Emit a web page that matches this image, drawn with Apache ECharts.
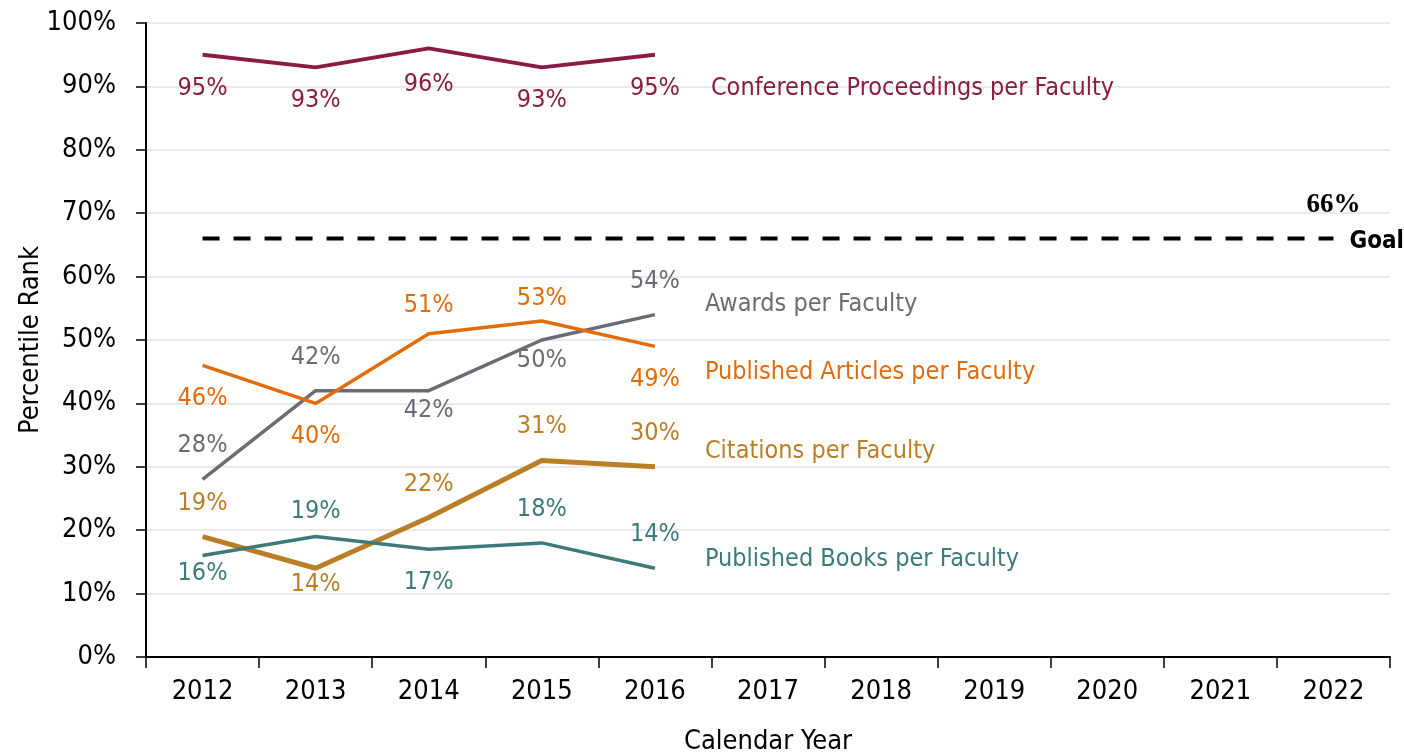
<!DOCTYPE html>
<html>
<head>
<meta charset="utf-8">
<script src="https://cdn.jsdelivr.net/npm/echarts@6/dist/echarts.min.js"></script>
<style>
  html, body { margin: 0; padding: 0; background: #fff; }
  #chart { width: 1404px; height: 754px; }
</style>
</head>
<body>
<div id="chart"></div>
<script>
// 数据
const years = ['2012', '2013', '2014', '2015', '2016', '2017', '2018', '2019', '2020', '2021', '2022']
const conference = [95, 93, 96, 93, 95]
const awards = [28, 42, 42, 50, 54]
const articles = [46, 40, 51, 53, 49]
const citations = [19, 14, 22, 31, 30]
const books = [16, 19, 17, 18, 14]
const goal = 66

const FONT = "'Liberation Sans Narrow', 'DejaVu Sans Condensed', sans-serif"

// 标签位置简写: t = 上方, b = 下方, 数字为距离
const place = s => {
  const [p, d] = s.split(':')
  return { position: p === 't' ? 'top' : 'bottom', distance: d ? +d : 21 }
}

// 每条线的样式和标签位置
const makeSeries = (name, values, color, width, pos, endOffset) => ({
  name,
  type: 'line',
  data: values.map((v, i) => ({ value: v, label: place(pos[i]) })),
  symbol: 'circle',
  symbolSize: 0,
  showSymbol: true,
  lineStyle: { color, width },
  itemStyle: { color },
  label: {
    show: true,
    formatter: p => p.value + '%',
    color,
    fontFamily: FONT,
    fontSize: 25
  },
  endLabel: {
    show: true,
    formatter: name,
    color,
    fontFamily: FONT,
    fontSize: 25,
    offset: endOffset
  },
  z: 3
})

const chart = echarts.init(document.getElementById('chart'))

const option = {
  animation: false,
  grid: { left: 146, right: 14, top: 23, bottom: 97, outerBoundsMode: 'none', containLabel: false },
  xAxis: {
    type: 'category',
    data: years,
    boundaryGap: true,
    name: 'Calendar Year',
    nameLocation: 'middle',
    nameGap: 71,
    nameTextStyle: { color: '#000', fontFamily: FONT, fontSize: 27 },
    axisLine: { lineStyle: { color: '#000', width: 2 } },
    axisTick: { show: true, length: 11, lineStyle: { color: '#000', width: 1.5 } },
    axisLabel: { color: '#000', fontFamily: FONT, fontSize: 27, margin: 21 },
    splitLine: { show: false }
  },
  yAxis: {
    type: 'value',
    min: 0,
    max: 100,
    interval: 10,
    name: 'Percentile Rank',
    nameLocation: 'middle',
    nameGap: 102,
    nameMoveOverlap: false,
    nameTextStyle: { color: '#000', fontFamily: FONT, fontSize: 27 },
    axisLine: { show: true, lineStyle: { color: '#000', width: 2 } },
    axisTick: { show: true, inside: false, length: 10, lineStyle: { color: '#000', width: 1.5 } },
    axisLabel: { color: '#000', fontFamily: FONT, fontSize: 27, margin: 30, formatter: '{value}%' },
    splitLine: { show: true, lineStyle: { color: '#e3e3e3', width: 1.5 } }
  },
  series: [
    makeSeries('Conference Proceedings per Faculty', conference, '#8a1c43', 4,
      ['b', 'b', 'b:24', 'b', 'b'], [48, 34]),
    makeSeries('Awards per Faculty', awards, '#6c6a74', 3.5,
      ['t', 't', 'b:7', 'b:8', 't'], [42, -10]),
    makeSeries('Published Articles per Faculty', articles, '#e36c0a', 3.5,
      ['b', 'b', 't:16', 't:10', 'b'], [42, 26]),
    makeSeries('Citations per Faculty', citations, '#b97f27', 5,
      ['t', 'b:4', 't', 't', 't'], [42, -15]),
    makeSeries('Published Books per Faculty', books, '#3d7b7b', 3.5,
      ['b:5', 't:13', 'b', 't', 't'], [42, -9]),
    {
      name: 'Goal',
      type: 'line',
      data: years.map((y, i) => ({
        value: goal,
        label: { show: i === years.length - 1 }
      })),
      symbol: 'circle',
      symbolSize: 0,
      showSymbol: true,
      lineStyle: { color: '#000', width: 4, type: [17, 14] },
      itemStyle: { color: '#000' },
      label: {
        show: false,
        position: 'top',
        distance: 20,
        formatter: p => p.value + '%',
        color: '#000',
        fontFamily: "'Liberation Serif', serif",
        fontWeight: 'bold',
        fontSize: 27
      },
      endLabel: {
        show: true,
        formatter: 'Goal',
        color: '#000',
        fontFamily: FONT,
        fontWeight: 'bold',
        fontSize: 24,
        offset: [8, 3]
      },
      z: 2
    }
  ]
}

chart.setOption(option)
</script>
</body>
</html>
